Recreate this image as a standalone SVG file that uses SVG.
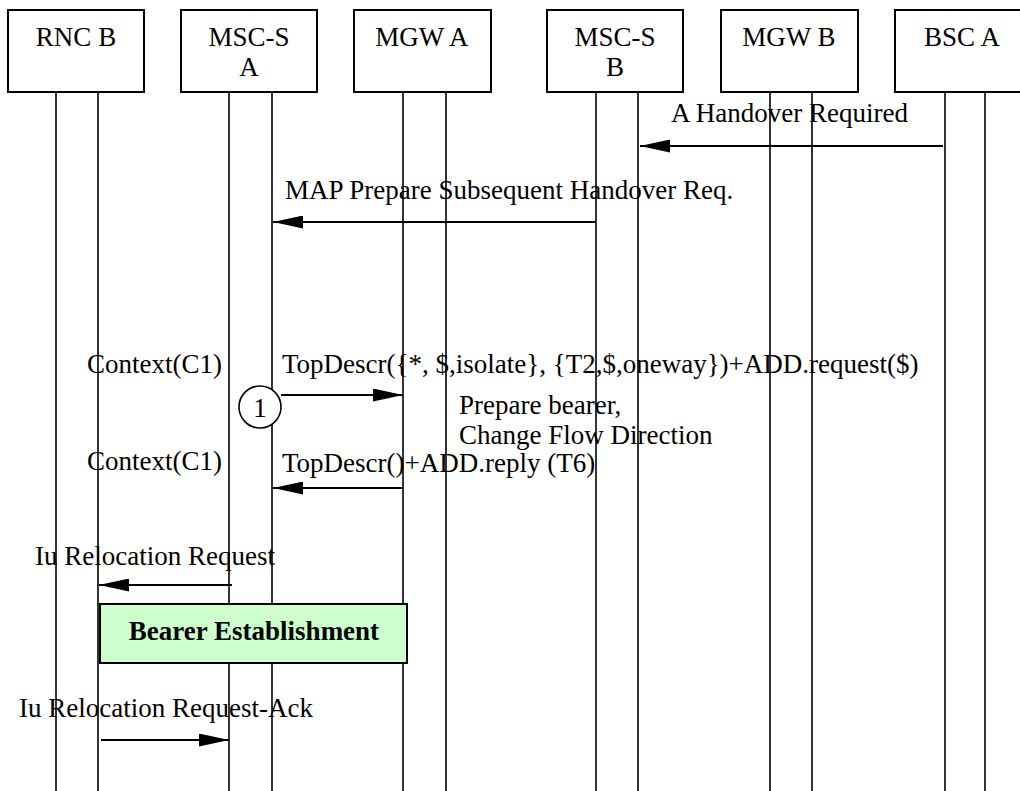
<svg xmlns="http://www.w3.org/2000/svg" width="1020" height="791" viewBox="0 0 1020 791">
<style>
text{font-family:"Liberation Serif","Times New Roman",serif;font-size:27px;fill:#000}
.c{text-anchor:middle}
.b{font-weight:bold}
.box{fill:#fff;stroke:#000;stroke-width:2}
.ll{stroke:#000;stroke-width:1.6;fill:none}
.msg{stroke:#000;stroke-width:2;fill:none;marker-end:url(#ah)}
</style>
<defs>
<marker id="ah" markerWidth="30" markerHeight="13" refX="30" refY="6.5" orient="auto" markerUnits="userSpaceOnUse">
<path d="M0,0 L30,6.5 L0,13 z" fill="#000"/>
</marker>
</defs>
<rect width="1020" height="791" fill="#fff"/>
<g id="lifelines">
<line class="ll" x1="56" y1="92" x2="56" y2="791"/>
<line class="ll" x1="98" y1="92" x2="98" y2="791"/>
<line class="ll" x1="229" y1="92" x2="229" y2="791"/>
<line class="ll" x1="272" y1="92" x2="272" y2="791"/>
<line class="ll" x1="403" y1="92" x2="403" y2="791"/>
<line class="ll" x1="446" y1="92" x2="446" y2="791"/>
<line class="ll" x1="596" y1="92" x2="596" y2="791"/>
<line class="ll" x1="638" y1="92" x2="638" y2="791"/>
<line class="ll" x1="770" y1="92" x2="770" y2="791"/>
<line class="ll" x1="812" y1="92" x2="812" y2="791"/>
<line class="ll" x1="945" y1="92" x2="945" y2="791"/>
<line class="ll" x1="985" y1="92" x2="985" y2="791"/>
</g>
<g id="rncb"><rect class="box" x="8" y="10" width="136" height="82"/><text class="c" x="76" y="46">RNC B</text></g>
<g id="mscsa"><rect class="box" x="181" y="10" width="136" height="82"/><text class="c" x="249" y="46">MSC-S</text><text class="c" x="249" y="76">A</text></g>
<g id="mgwa"><rect class="box" x="354" y="10" width="137" height="82"/><text class="c" x="422" y="46">MGW A</text></g>
<g id="mscsb"><rect class="box" x="547" y="10" width="136" height="82"/><text class="c" x="615" y="46">MSC-S</text><text class="c" x="615" y="76">B</text></g>
<g id="mgwb"><rect class="box" x="721" y="10" width="137" height="82"/><text class="c" x="789" y="46">MGW B</text></g>
<g id="bsca"><rect class="box" x="895" y="10" width="136" height="82"/><text class="c" x="962" y="46">BSC A</text></g>
<g id="connectors">
<line class="msg" x1="943" y1="146" x2="640" y2="146"/>
<line class="msg" x1="596" y1="222" x2="273" y2="222"/>
<line class="msg" x1="281" y1="395" x2="403" y2="395"/>
<line class="msg" x1="403" y1="488" x2="273" y2="488"/>
<line class="msg" x1="232" y1="585" x2="99" y2="585"/>
<line class="msg" x1="101" y1="740" x2="229" y2="740"/>
</g>
<g id="labels">
<text x="671" y="122">A Handover Required</text>
<text x="285" y="199">MAP Prepare Subsequent Handover Req.</text>
<text x="87" y="373">Context(C1)</text>
<text x="282" y="373">TopDescr({*, $,isolate}, {T2,$,oneway})+ADD.request($)</text>
<text x="459" y="414">Prepare bearer,</text>
<text x="459" y="444">Change Flow Direction</text>
<text x="87" y="470">Context(C1)</text>
<text x="282" y="472">TopDescr()+ADD.reply (T6)</text>
<text x="35" y="565">Iu Relocation Request</text>
<text x="19" y="717">Iu Relocation Request-Ack</text>
</g>
<g id="step1"><circle cx="260" cy="407" r="21" fill="#fff" stroke="#000" stroke-width="1.6"/><text class="c" x="260" y="417">1</text></g>
<g id="bearer"><rect x="100" y="604" width="307" height="59" fill="#CCFFCC" stroke="#000" stroke-width="2"/><text class="c b" x="254" y="640">Bearer Establishment</text></g>
</svg>
